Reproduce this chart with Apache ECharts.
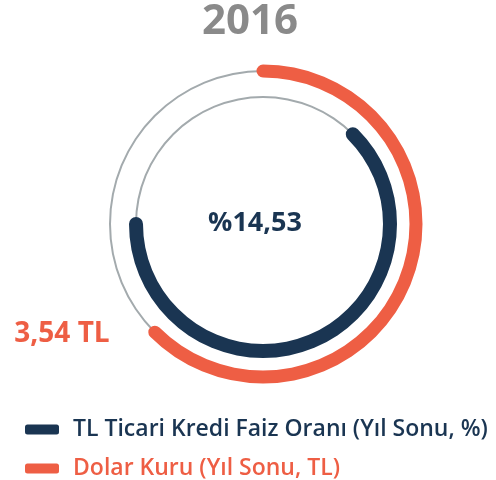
<!DOCTYPE html>
<html>
<head>
<meta charset="utf-8">
<script src="https://cdn.jsdelivr.net/npm/echarts@6/dist/echarts.min.js"></script>
<style>
html,body{margin:0;padding:0;background:#fff;}
#main{width:496px;height:480px;}
</style>
</head>
<body>
<div id="main"></div>
<script>
const year = '2016';
const categories = ['TL Ticari Kredi Faiz Oranı (Yıl Sonu, %)', 'Dolar Kuru (Yıl Sonu, TL)'];
const values = [14.53, 3.54];
const valueLabels = ['%14,53', '3,54 TL'];
const arcFractions = [0.625, 0.625];   // share of full ring covered by each arc
const arcStartDeg = [45, 0];           // clockwise from 12 o'clock

const NAVY = '#1a3552';
const ORANGE = '#ee5e44';
const TRACK = '#a3aaad';
const CX = 263, CY = 224;
const rings = [ {r: 127, w: 14, color: NAVY}, {r: 153, w: 13, color: ORANGE} ];
const legendTops = [413, 452];

const chart = echarts.init(document.getElementById('main'), null, {renderer: 'canvas'});

function hidden() {
  return {
    pointer: {show: false}, axisTick: {show: false}, splitLine: {show: false},
    axisLabel: {show: false}, detail: {show: false}, title: {show: false}, anchor: {show: false}
  };
}

const series = [];
categories.forEach((name, i) => {
  const ring = rings[i];
  const start = 90 - arcStartDeg[i];
  series.push(Object.assign({
    type: 'gauge', name: name + ' track', center: [CX, CY], radius: ring.r + 1,
    startAngle: start, endAngle: start - 360, min: 0, max: 1, silent: true,
    axisLine: {lineStyle: {width: 2, color: [[1, TRACK]]}},
    progress: {show: false},
    data: [{value: 0}]
  }, hidden()));
  series.push(Object.assign({
    type: 'gauge', name: name, center: [CX, CY], radius: ring.r + ring.w / 2,
    startAngle: start, endAngle: start - 360, min: 0, max: 1,
    itemStyle: {color: ring.color},
    axisLine: {show: false},
    progress: {show: true, width: ring.w, roundCap: true, itemStyle: {color: ring.color}},
    data: [{value: arcFractions[i], name: name}]
  }, hidden()));
});

const legends = categories.map((name, i) => ({
  left: 20, top: legendTops[i],
  itemWidth: 34, itemHeight: 10, icon: 'roundRect', itemGap: 18,
  textStyle: {fontFamily: 'Open Sans', fontSize: 23, fontWeight: 600, color: rings[i].color,
    padding: [0, 0, 0, 9]},
  data: [{name: name, itemStyle: {color: rings[i].color}}]
}));

const NUMFONT = '"Open Sans", "Liberation Sans", sans-serif';
chart.setOption({
  animation: false,
  legend: legends,
  graphic: [
    {type: 'text', x: 250, y: 22, style: {text: year, textAlign: 'center', textVerticalAlign: 'middle',
      font: 'bold 42px ' + NUMFONT, fill: '#8a8a8a'}},
    {type: 'text', x: 255, y: 223, style: {text: valueLabels[0], textAlign: 'center', textVerticalAlign: 'middle',
      font: 'bold 27px ' + NUMFONT, fill: NAVY}},
    {type: 'text', x: 62, y: 334, style: {text: valueLabels[1], textAlign: 'center', textVerticalAlign: 'middle',
      font: 'bold 28px ' + NUMFONT, fill: ORANGE}}
  ],
  series: series
});
</script>
</body>
</html>
